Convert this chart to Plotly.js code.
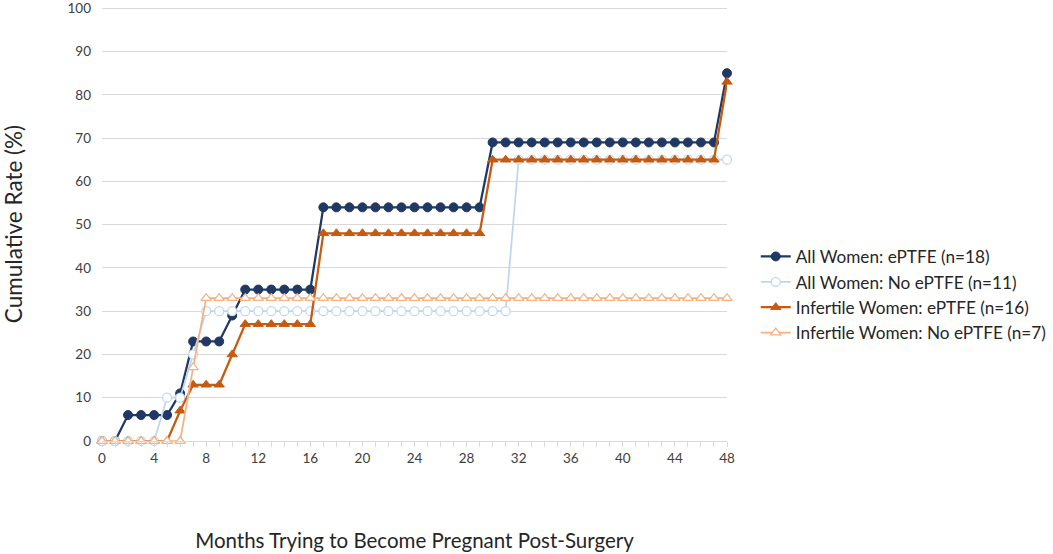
<!DOCTYPE html>
<html>
<head>
<meta charset="utf-8">
<script src="https://cdn.plot.ly/plotly-3.0.1.min.js"></script>
<style>html,body{margin:0;padding:0;background:#fff;}#chart{width:1053px;height:554px;}</style>
</head>
<body>
<div id="chart"></div>
<script>
// Months 0..48
const months = Array.from({length: 49}, (_, i) => i);

const seriesNames = [
  "All Women: ePTFE (n=18)",
  "All Women: No ePTFE (n=11)",
  "Infertile Women: ePTFE (n=16)",
  "Infertile Women: No ePTFE (n=7)"
];

// All Women: ePTFE (n=18)
const allEptfe = [0,0,6,6,6,6,11,23,23,23,29,35,35,35,35,35,35,
  54,54,54,54,54,54,54,54,54,54,54,54,54,
  69,69,69,69,69,69,69,69,69,69,69,69,69,69,69,69,69,69,85];

// All Women: No ePTFE (n=11)
const allNoEptfe = [0,0,0,0,0,10,10,20,30,30,30,30,30,30,30,30,30,
  30,30,30,30,30,30,30,30,30,30,30,30,30,30,30,
  65,65,65,65,65,65,65,65,65,65,65,65,65,65,65,65,65];

// Infertile Women: ePTFE (n=16)
const infEptfe = [0,0,0,0,0,0,7,13,13,13,20,27,27,27,27,27,27,
  48,48,48,48,48,48,48,48,48,48,48,48,48,
  65,65,65,65,65,65,65,65,65,65,65,65,65,65,65,65,65,65,83];

// Infertile Women: No ePTFE (n=7)
const infNoEptfe = [0,0,0,0,0,0,0,17,33,33,33,33,33,33,33,33,33,
  33,33,33,33,33,33,33,33,33,33,33,33,33,33,33,
  33,33,33,33,33,33,33,33,33,33,33,33,33,33,33,33,33];

const xTickVals = [0,4,8,12,16,20,24,28,32,36,40,44,48];
const yTickVals = [0,10,20,30,40,50,60,70,80,90,100];

const traces = [
  {x: months, y: allEptfe, name: seriesNames[0], mode: "lines+markers",
   line: {color: "#203864", width: 2.25},
   marker: {symbol: "circle", size: 9, color: "#203864", line: {color: "#203864", width: 1}}},
  {x: months, y: allNoEptfe, name: seriesNames[1], mode: "lines+markers",
   line: {color: "#bdd7ee", width: 1.75},
   marker: {symbol: "circle", size: 9, color: "#ffffff", line: {color: "#bdd7ee", width: 1.25}}},
  {x: months, y: infEptfe, name: seriesNames[2], mode: "lines+markers",
   line: {color: "#c55a11", width: 2.25},
   marker: {symbol: "triangle-up", size: 9, color: "#c55a11", line: {color: "#c55a11", width: 1}}},
  {x: months, y: infNoEptfe, name: seriesNames[3], mode: "lines+markers",
   line: {color: "#f4b183", width: 1.75},
   marker: {symbol: "triangle-up", size: 9, color: "#ffffff", line: {color: "#f4b183", width: 1.25}}}
];
traces.forEach(t => { t.cliponaxis = false; });

const layout = {
  width: 1053, height: 554,
  margin: {l: 102, r: 326, t: 7, b: 113, autoexpand: false},
  paper_bgcolor: "#ffffff", plot_bgcolor: "#ffffff",
  font: {family: "Lato, 'Open Sans', sans-serif", color: "#404040"},
  showlegend: true,
  legend: {x: 1.046, xanchor: "left", y: 0.337, yanchor: "middle",
    font: {size: 17.2, color: "#262626"}, tracegroupgap: 0, itemwidth: 30},
  xaxis: {
    range: [0, 48], tickvals: xTickVals, ticktext: xTickVals.map(String),
    showgrid: false, zeroline: false,
    showline: true, linecolor: "#d9d9d9", linewidth: 1,
    ticks: "outside", ticklen: 5, tickcolor: "#d9d9d9",
    minor: {dtick: 1, ticks: "outside", ticklen: 5, tickcolor: "#d9d9d9"},
    tickfont: {size: 13.5, color: "#404040"},
    title: {text: "Months Trying to Become Pregnant Post-Surgery", font: {size: 20.5, color: "#262626"}, standoff: 68}
  },
  yaxis: {
    range: [0, 100.3], tickvals: yTickVals, ticktext: yTickVals.map(String),
    showgrid: true, gridcolor: "#d9d9d9", gridwidth: 1,
    zeroline: false, showline: false, ticks: "",
    ticklabelstandoff: 10,
    tickfont: {size: 13.5, color: "#404040"},
    title: {text: "Cumulative Rate (%)", font: {size: 22.5, color: "#262626"}, standoff: 40}
  }
};

Plotly.newPlot("chart", traces, layout, {displayModeBar: false, staticPlot: true});
</script>
</body>
</html>
